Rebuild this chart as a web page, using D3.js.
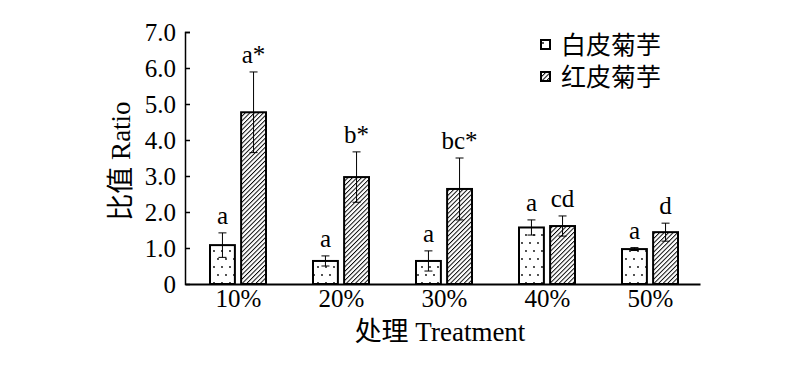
<!DOCTYPE html>
<html>
<head>
<meta charset="utf-8">
<script src="https://cdn.jsdelivr.net/npm/d3@7.9.0/dist/d3.min.js"></script>
<style>
  html, body { margin: 0; padding: 0; background: #fff; }
  svg text { font-family: "Liberation Serif", "Noto Sans CJK SC", serif; fill: #000; }
</style>
</head>
<body>
<svg id="chart" width="800" height="366"></svg>
<script>
// data
const treatments = ['10%', '20%', '30%', '40%', '50%'];
const seriesNames = ['白皮菊芋', '红皮菊芋'];
const whiteMean = [1.08, 0.64, 0.64, 1.57, 0.97];
const whiteErr  = [0.34, 0.14, 0.28, 0.21, 0.04];
const redMean   = [4.77, 2.97, 2.64, 1.61, 1.44];
const redErr    = [1.12, 0.70, 0.86, 0.28, 0.25];
const whiteSig  = ['a', 'a', 'a', 'a', 'a'];
const redSig    = ['a*', 'b*', 'bc*', 'cd', 'd'];
const yTicks    = [0, 1, 2, 3, 4, 5, 6, 7];

const svg = d3.select('#chart');

// scales
const x = d3.scaleBand().domain(treatments).range([185, 700]).padding(0);
const inner = d3.scaleBand().domain([0, 1]).range([25, 81]).paddingInner(0.2);
const y = d3.scaleLinear().domain([0, 7]).range([284, 32]);

// fill patterns
const defs = svg.append('defs');
const dots = defs.append('pattern')
  .attr('id', 'dots').attr('patternUnits', 'userSpaceOnUse')
  .attr('width', 8).attr('height', 16);
dots.append('rect').attr('width', 8).attr('height', 16).attr('fill', '#fff');
dots.append('circle').attr('cx', 2).attr('cy', 3).attr('r', 0.9).attr('fill', '#000');
dots.append('circle').attr('cx', 6).attr('cy', 11).attr('r', 0.9).attr('fill', '#000');

const hatch = defs.append('pattern')
  .attr('id', 'hatch').attr('patternUnits', 'userSpaceOnUse')
  .attr('width', 3.2).attr('height', 3.2)
  .attr('patternTransform', 'rotate(45)');
hatch.append('rect').attr('width', 3.2).attr('height', 3.2).attr('fill', '#fff');
hatch.append('line').attr('x1', 0).attr('y1', 0).attr('x2', 0).attr('y2', 3.2)
  .attr('stroke', '#000').attr('stroke-width', 1.9);

const fills = ['url(#dots)', 'url(#hatch)'];

// build rows for both series
const rows = [];
treatments.forEach((t, i) => {
  rows.push({ t, s: 0, v: whiteMean[i], e: whiteErr[i], sig: whiteSig[i] });
  rows.push({ t, s: 1, v: redMean[i], e: redErr[i], sig: redSig[i] });
});

// bars
svg.append('g').selectAll('rect')
  .data(rows)
  .join('rect')
  .attr('x', d => x(d.t) + inner(d.s))
  .attr('y', d => y(d.v))
  .attr('width', inner.bandwidth())
  .attr('height', d => y(0) - y(d.v))
  .attr('fill', d => fills[d.s])
  .attr('stroke', '#000')
  .attr('stroke-width', 2);

// error bars
const eb = svg.append('g').attr('stroke', '#000').attr('stroke-width', 1);
rows.forEach(d => {
  const cx = x(d.t) + inner(d.s) + inner.bandwidth() / 2;
  eb.append('line').attr('x1', cx).attr('x2', cx)
    .attr('y1', y(d.v + d.e)).attr('y2', y(Math.max(0, d.v - d.e)));
  eb.append('line').attr('x1', cx - 4).attr('x2', cx + 4)
    .attr('y1', y(d.v + d.e)).attr('y2', y(d.v + d.e));
  eb.append('line').attr('x1', cx - 4).attr('x2', cx + 4)
    .attr('y1', y(Math.max(0, d.v - d.e))).attr('y2', y(Math.max(0, d.v - d.e)));
});

// significance letters
svg.append('g').selectAll('text')
  .data(rows)
  .join('text')
  .attr('x', d => x(d.t) + inner(d.s) + inner.bandwidth() / 2)
  .attr('y', d => y(d.v + d.e) - 9)
  .attr('text-anchor', 'middle')
  .attr('font-size', 25)
  .text(d => d.sig);

// y axis
const yAxis = svg.append('g')
  .attr('transform', 'translate(185,0)')
  .call(d3.axisLeft(y).tickValues(yTicks).tickSize(-5).tickPadding(9)
    .tickFormat(d => d === 0 ? '0' : d3.format('.1f')(d)));
yAxis.select('.domain').attr('stroke-width', 1.5);
yAxis.selectAll('.tick line').attr('stroke-width', 1.5);
yAxis.selectAll('text').attr('font-size', 25);
yAxis.selectAll('.tick').filter(d => d === 0).select('line').remove();

// x axis
const xAxis = svg.append('g')
  .attr('transform', 'translate(0,284)')
  .call(d3.axisBottom(x).tickSize(0).tickPadding(5));
xAxis.select('.domain').attr('stroke-width', 2);
xAxis.selectAll('text').attr('font-size', 25).attr('dx', 2);

// axis titles
svg.append('text')
  .attr('transform', 'translate(130,161) rotate(-90)')
  .attr('text-anchor', 'middle')
  .attr('font-size', 27)
  .text('比值 Ratio');

svg.append('text')
  .attr('x', 440).attr('y', 341)
  .attr('text-anchor', 'middle')
  .attr('font-size', 27)
  .text('处理 Treatment');

// legend
const legend = svg.append('g').attr('transform', 'translate(541,40)');
seriesNames.forEach((name, i) => {
  const g = legend.append('g').attr('transform', `translate(0,${i * 32})`);
  g.append('rect').attr('x', 0).attr('y', 0).attr('width', 9).attr('height', 9)
    .attr('fill', fills[i]).attr('stroke', '#000').attr('stroke-width', 2);
  g.append('text').attr('x', 20).attr('y', 5).attr('dy', '0.36em')
    .attr('font-size', 25).text(name);
});
</script>
</body>
</html>
